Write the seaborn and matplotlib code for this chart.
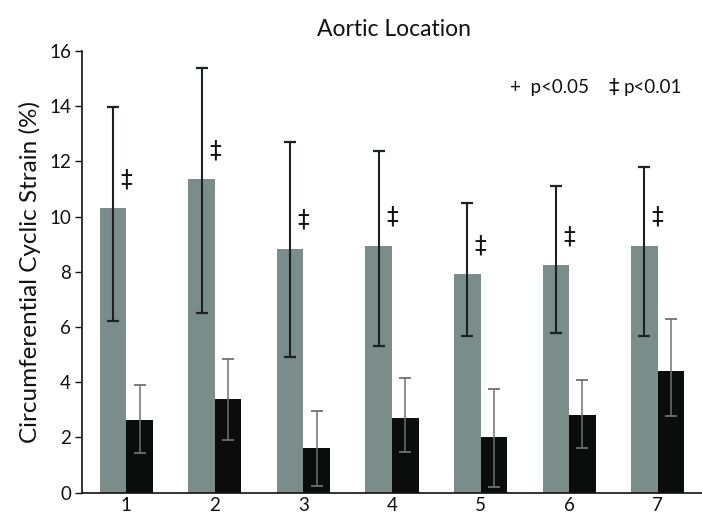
import matplotlib
matplotlib.use("Agg")
import matplotlib.pyplot as plt
import numpy as np
import pandas as pd
import seaborn as sns

# Aortic locations and mean circumferential cyclic strain (%) per group
locations = ["1", "2", "3", "4", "5", "6", "7"]
groups = ["A", "B"]
mean_a = [10.3, 11.35, 8.83, 8.94, 7.91, 8.24, 8.94]
low_a = [6.23, 6.5, 4.93, 5.32, 5.69, 5.79, 5.69]
high_a = [13.97, 15.38, 12.7, 12.36, 10.49, 11.12, 11.78]
mean_b = [2.65, 3.39, 1.63, 2.71, 2.01, 2.82, 4.42]
low_b = [1.44, 1.92, 0.25, 1.46, 0.22, 1.61, 2.79]
high_b = [3.91, 4.83, 2.95, 4.14, 3.76, 4.08, 6.29]
sig_marks = ["‡", "‡", "‡", "‡", "‡", "‡", "‡"]

sns.set_theme(style="white")
plt.rcParams["font.family"] = ["Lato", "DejaVu Sans"]

df = pd.DataFrame({
    "location": locations * 2,
    "group": [groups[0]] * len(locations) + [groups[1]] * len(locations),
    "strain": mean_a + mean_b,
})

gray = "#7b8d8b"
black = "#0b0d0d"

fig = plt.figure(figsize=(7.02, 5.15), dpi=100)
ax = fig.add_axes([82 / 702, (515 - 492.7) / 515, (702 - 82) / 702, (492.7 - 51) / 515])

sns.barplot(data=df, x="location", y="strain", hue="group", order=locations,
            hue_order=groups, palette=[gray, black], width=0.6, errorbar=None,
            legend=False, saturation=1, linewidth=0, ax=ax)

# bar centres from the drawn patches
n = len(locations)
bars = ax.patches
xa = np.array([bars[i].get_x() + bars[i].get_width() / 2 for i in range(n)])
xb = np.array([bars[n + i].get_x() + bars[n + i].get_width() / 2 for i in range(n)])

ma, mb = np.array(mean_a), np.array(mean_b)
ax.errorbar(xa, ma, yerr=[ma - np.array(low_a), np.array(high_a) - ma], fmt="none",
            ecolor="#1c2222", elinewidth=1.5, capsize=4, capthick=1.6, zorder=3)
ax.errorbar(xb, mb, yerr=[mb - np.array(low_b), np.array(high_b) - mb], fmt="none",
            ecolor="#6e7272", elinewidth=1.1, capsize=4, capthick=1.3, zorder=3)

# significance marks at the category centres
for i, m in enumerate(sig_marks):
    ax.text(i, mean_a[i] + 1.05, m, ha="center", va="center", fontsize=17,
            color="#111111", family=["DejaVu Sans"])

ax.set_xlim(-0.5, n - 0.5)
ax.set_ylim(0, 16)
ax.set_yticks(np.arange(0, 17, 2))
ax.set_xticks(np.arange(n))
ax.set_xticklabels(locations)
ax.set_xticks(np.arange(n + 1) - 0.5, minor=True)
ax.tick_params(axis="x", which="major", length=0, labelsize=13.5, pad=3, colors="#111111")
ax.tick_params(axis="x", which="minor", length=5, width=1, direction="out", color="#111111")
ax.tick_params(axis="y", length=5, width=1, direction="out", labelsize=13.5,
               pad=3, colors="#111111", left=True)
for s in ["top", "right"]:
    ax.spines[s].set_visible(False)
for s in ["left", "bottom"]:
    ax.spines[s].set_color("#111111")
    ax.spines[s].set_linewidth(1.2)

ax.set_xlabel("")
ax.set_ylabel("Circumferential Cyclic Strain (%)", fontsize=17.5, color="#111111", labelpad=6)
fig.text(394 / 702, 1 - 30 / 515, "Aortic Location", ha="center", va="center",
         fontsize=16.5, color="#111111")
fig.text(510 / 702, 1 - 88 / 515, "+  p<0.05", ha="left", va="center", fontsize=13.5,
         color="#111111", family=["Lato", "DejaVu Sans"])
fig.text(608 / 702, 1 - 88 / 515, "‡", ha="left", va="center", fontsize=15,
         color="#111111", family=["DejaVu Sans"])
fig.text(624 / 702, 1 - 88 / 515, "p<0.01", ha="left", va="center", fontsize=13.5,
         color="#111111")

fig.savefig("out.png", dpi=100)
